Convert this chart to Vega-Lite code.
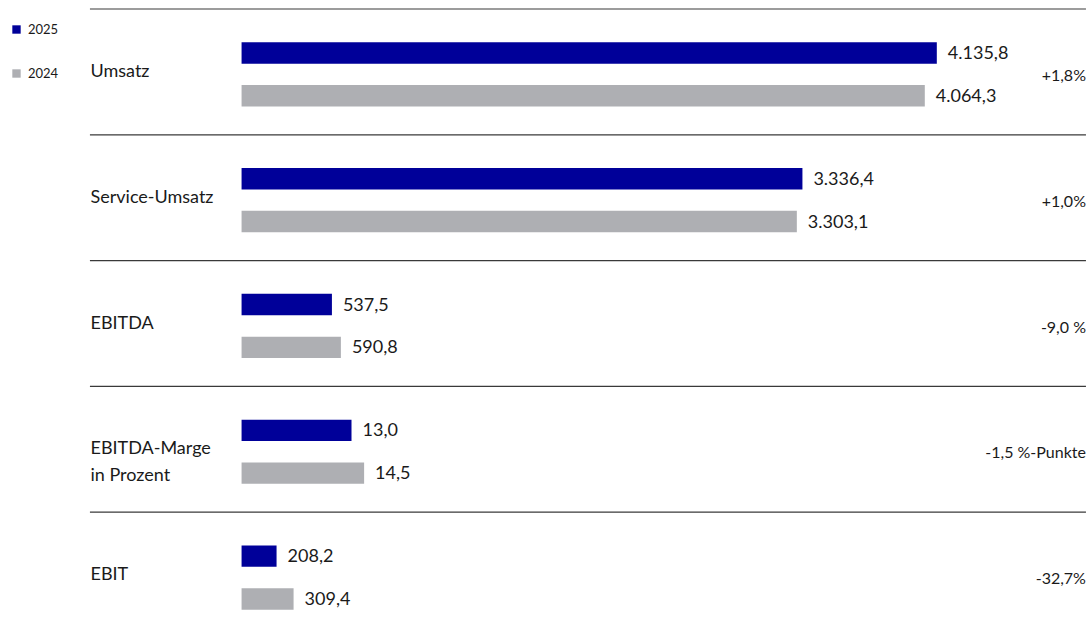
{
  "$schema": "https://vega.github.io/schema/vega-lite/v6.json",
  "width": 1091,
  "height": 633,
  "autosize": {"type": "fit", "contains": "padding"},
  "padding": 0,
  "background": "white",
  "config": {"view": {"stroke": null}, "font": "Lato"},
  "datasets": {
    "bars": [
      {"cat": "Umsatz", "year": "2025", "value": 4135.8, "len": 4135.8, "label": "4.135,8"},
      {"cat": "Umsatz", "year": "2024", "value": 4064.3, "len": 4064.3, "label": "4.064,3"},
      {"cat": "Service-Umsatz", "year": "2025", "value": 3336.4, "len": 3336.4, "label": "3.336,4"},
      {"cat": "Service-Umsatz", "year": "2024", "value": 3303.1, "len": 3303.1, "label": "3.303,1"},
      {"cat": "EBITDA", "year": "2025", "value": 537.5, "len": 537.5, "label": "537,5"},
      {"cat": "EBITDA", "year": "2024", "value": 590.8, "len": 590.8, "label": "590,8"},
      {"cat": "EBITDA-Marge in Prozent", "year": "2025", "value": 13.0, "len": 654, "label": "13,0"},
      {"cat": "EBITDA-Marge in Prozent", "year": "2024", "value": 14.5, "len": 729, "label": "14,5"},
      {"cat": "EBIT", "year": "2025", "value": 208.2, "len": 208.2, "label": "208,2"},
      {"cat": "EBIT", "year": "2024", "value": 309.4, "len": 309.4, "label": "309,4"}
    ],
    "rows": [
      {"cat": "Umsatz", "change": "+1,8%"},
      {"cat": "Service-Umsatz", "change": "+1,0%"},
      {"cat": "EBITDA", "change": "-9,0 %"},
      {"cat": "EBITDA-Marge in Prozent", "change": "-1,5 %-Punkte"},
      {"cat": "EBIT", "change": "-32,7%"}
    ]
  },
  "layer": [
    {
      "data": {"name": "rows"},
      "mark": {"type": "rule", "color": "#3a3a3a", "strokeWidth": 1.2},
      "encoding": {
        "y": {
          "field": "cat", "type": "nominal", "bandPosition": 0,
          "scale": {"domain": ["Umsatz", "Service-Umsatz", "EBITDA", "EBITDA-Marge in Prozent", "EBIT"], "range": [9, 638], "paddingInner": 0, "paddingOuter": 0},
          "axis": {
            "title": null, "domain": false, "ticks": false, "grid": false,
            "offset": -90, "labelAlign": "left", "labelPadding": 0,
            "labelFontSize": 18, "labelColor": "#1a1a1a", "labelFont": "Lato",
            "labelLineHeight": 27, "labelBaseline": "middle",
            "labelExpr": "datum.value == 'EBITDA-Marge in Prozent' ? ['EBITDA-Marge', '\u00a0in Prozent'] : datum.value"
          }
        },
        "x": {"datum": -902, "type": "quantitative", "scale": {"domain": [-1437, 5053], "nice": false, "zero": false}, "axis": null},
        "x2": {"datum": 5023}
      }
    },
    {
      "data": {"name": "bars"},
      "mark": {"type": "bar"},
      "encoding": {
        "y": {"field": "cat", "type": "nominal"},
        "yOffset": {"field": "year", "type": "nominal", "scale": {"domain": ["2025", "2024"], "paddingInner": 0.5, "paddingOuter": 0.72, "align": 0.54}},
        "x": {"field": "len", "type": "quantitative"},
        "color": {
          "field": "year", "type": "nominal",
          "scale": {"domain": ["2025", "2024"], "range": ["#000099", "#AEAFB3"]},
          "legend": {
            "orient": "none", "legendX": 10, "legendY": 23, "title": null,
            "symbolType": "square", "symbolSize": 70, "symbolStrokeWidth": 0,
            "labelFontSize": 13, "labelColor": "#1a1a1a", "labelFont": "Lato",
            "rowPadding": 30, "labelOffset": 5, "padding": 0
          }
        }
      }
    },
    {
      "data": {"name": "bars"},
      "mark": {"type": "text", "align": "left", "baseline": "middle", "dx": 11, "dy": 1, "fontSize": 18, "color": "#1a1a1a"},
      "encoding": {
        "y": {"field": "cat", "type": "nominal"},
        "yOffset": {"field": "year", "type": "nominal"},
        "x": {"field": "len", "type": "quantitative"},
        "text": {"field": "label"}
      }
    },
    {
      "data": {"name": "rows"},
      "mark": {"type": "text", "align": "right", "baseline": "middle", "dy": 4, "fontSize": 16, "color": "#1a1a1a"},
      "encoding": {
        "y": {"field": "cat", "type": "nominal"},
        "x": {"datum": 5023, "type": "quantitative"},
        "text": {"field": "change"}
      }
    }
  ]
}
